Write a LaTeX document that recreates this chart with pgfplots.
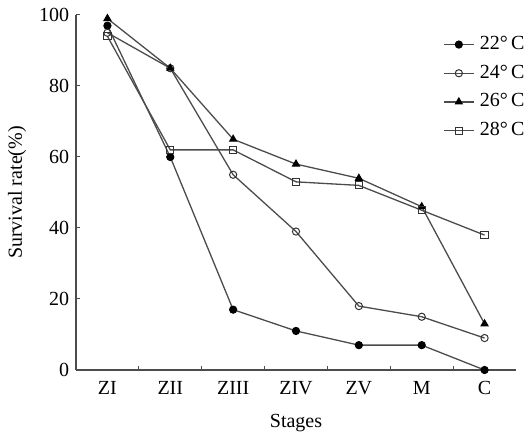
\documentclass[border=0pt]{standalone}
\usepackage{pgfplots}
\pgfplotsset{compat=1.18}
\usepackage{fontspec}
\setmainfont{Liberation Serif}
\definecolor{ln}{gray}{0.3}
\begin{document}
\fontsize{20}{24}\selectfont
\begin{tikzpicture}
\begin{axis}[
  scale only axis, width=440pt, height=355pt,
  xmin=-0.5, xmax=6.5, ymin=0, ymax=100,
  clip=false,
  axis x line*=bottom, axis y line*=left,
  axis line style={-, draw=ln, line width=1.2pt},
  /pgf/number format/assume math mode=true,
  xtick={0,1,2,3,4,5,6},
  xticklabels={ZI,ZII,ZIII,ZIV,ZV,M,C},
  x tick style={draw=none},
  minor xtick={0.5,1.5,2.5,3.5,4.5,5.5},
  minor x tick style={draw=ln, line width=1pt},
  minor tick length=4pt,
  ytick={0,20,40,60,80,100},
  y tick style={draw=ln, line width=1pt},
  major tick length=4pt,
  tick align=inside,
  xticklabel style={anchor=base, yshift=-25pt},
  ticklabel style={font=\fontsize{20}{24}\selectfont},
  label style={font=\fontsize{20}{24}\selectfont},
  xlabel={Stages},
  xlabel style={at={([yshift=-57pt]axis description cs:0.5,0)}, anchor=base},
  ylabel={Survival rate(\%)},
  ylabel style={at={([xshift=-59pt]axis description cs:0,0.5)}, anchor=center, rotate=0},
  legend style={draw=none, fill=none, at={([xshift=367pt, yshift=-15pt]axis description cs:0,1)}, anchor=north west,
    inner sep=0pt, font=\fontsize{20}{24}\selectfont, row sep=0pt,
    nodes={inner sep=5.35pt, text height=14pt, text depth=4pt}},
  legend cell align=left,
  legend image code/.code={\draw[mark repeat=2,mark phase=2,#1] plot coordinates {(0pt,0pt) (15pt,0pt) (30pt,0pt)};},
  every axis plot/.append style={draw=ln, line width=1.3pt},
]
\addplot[mark=*, mark size=3.6pt, mark options={fill=black, draw=black, line width=1pt}] coordinates {(0,97) (1,60) (2,17) (3,11) (4,7) (5,7) (6,0)};
\addlegendentry{22°\,C}
\addplot[mark=o, mark size=3.6pt, mark options={fill=white, draw=black!80, line width=1pt}] coordinates {(0,95) (1,85) (2,55) (3,39) (4,18) (5,15) (6,9)};
\addlegendentry{24°\,C}
\addplot[mark=triangle*, mark size=4pt, mark options={fill=black, draw=black, line width=1pt}] coordinates {(0,99) (1,85) (2,65) (3,58) (4,54) (5,46) (6,13)};
\addlegendentry{26°\,C}
\addplot[mark=square, mark size=3.6pt, mark options={fill=white, draw=black!80, line width=1pt}] coordinates {(0,94) (1,62) (2,62) (3,53) (4,52) (5,45) (6,38)};
\addlegendentry{28°\,C}
\coordinate (O) at (rel axis cs:0,0);
\end{axis}
\pgfresetboundingbox
\path ([shift={(-76pt,-64pt)}]O) rectangle ([shift={(452pt,370pt)}]O);
\end{tikzpicture}
\end{document}
